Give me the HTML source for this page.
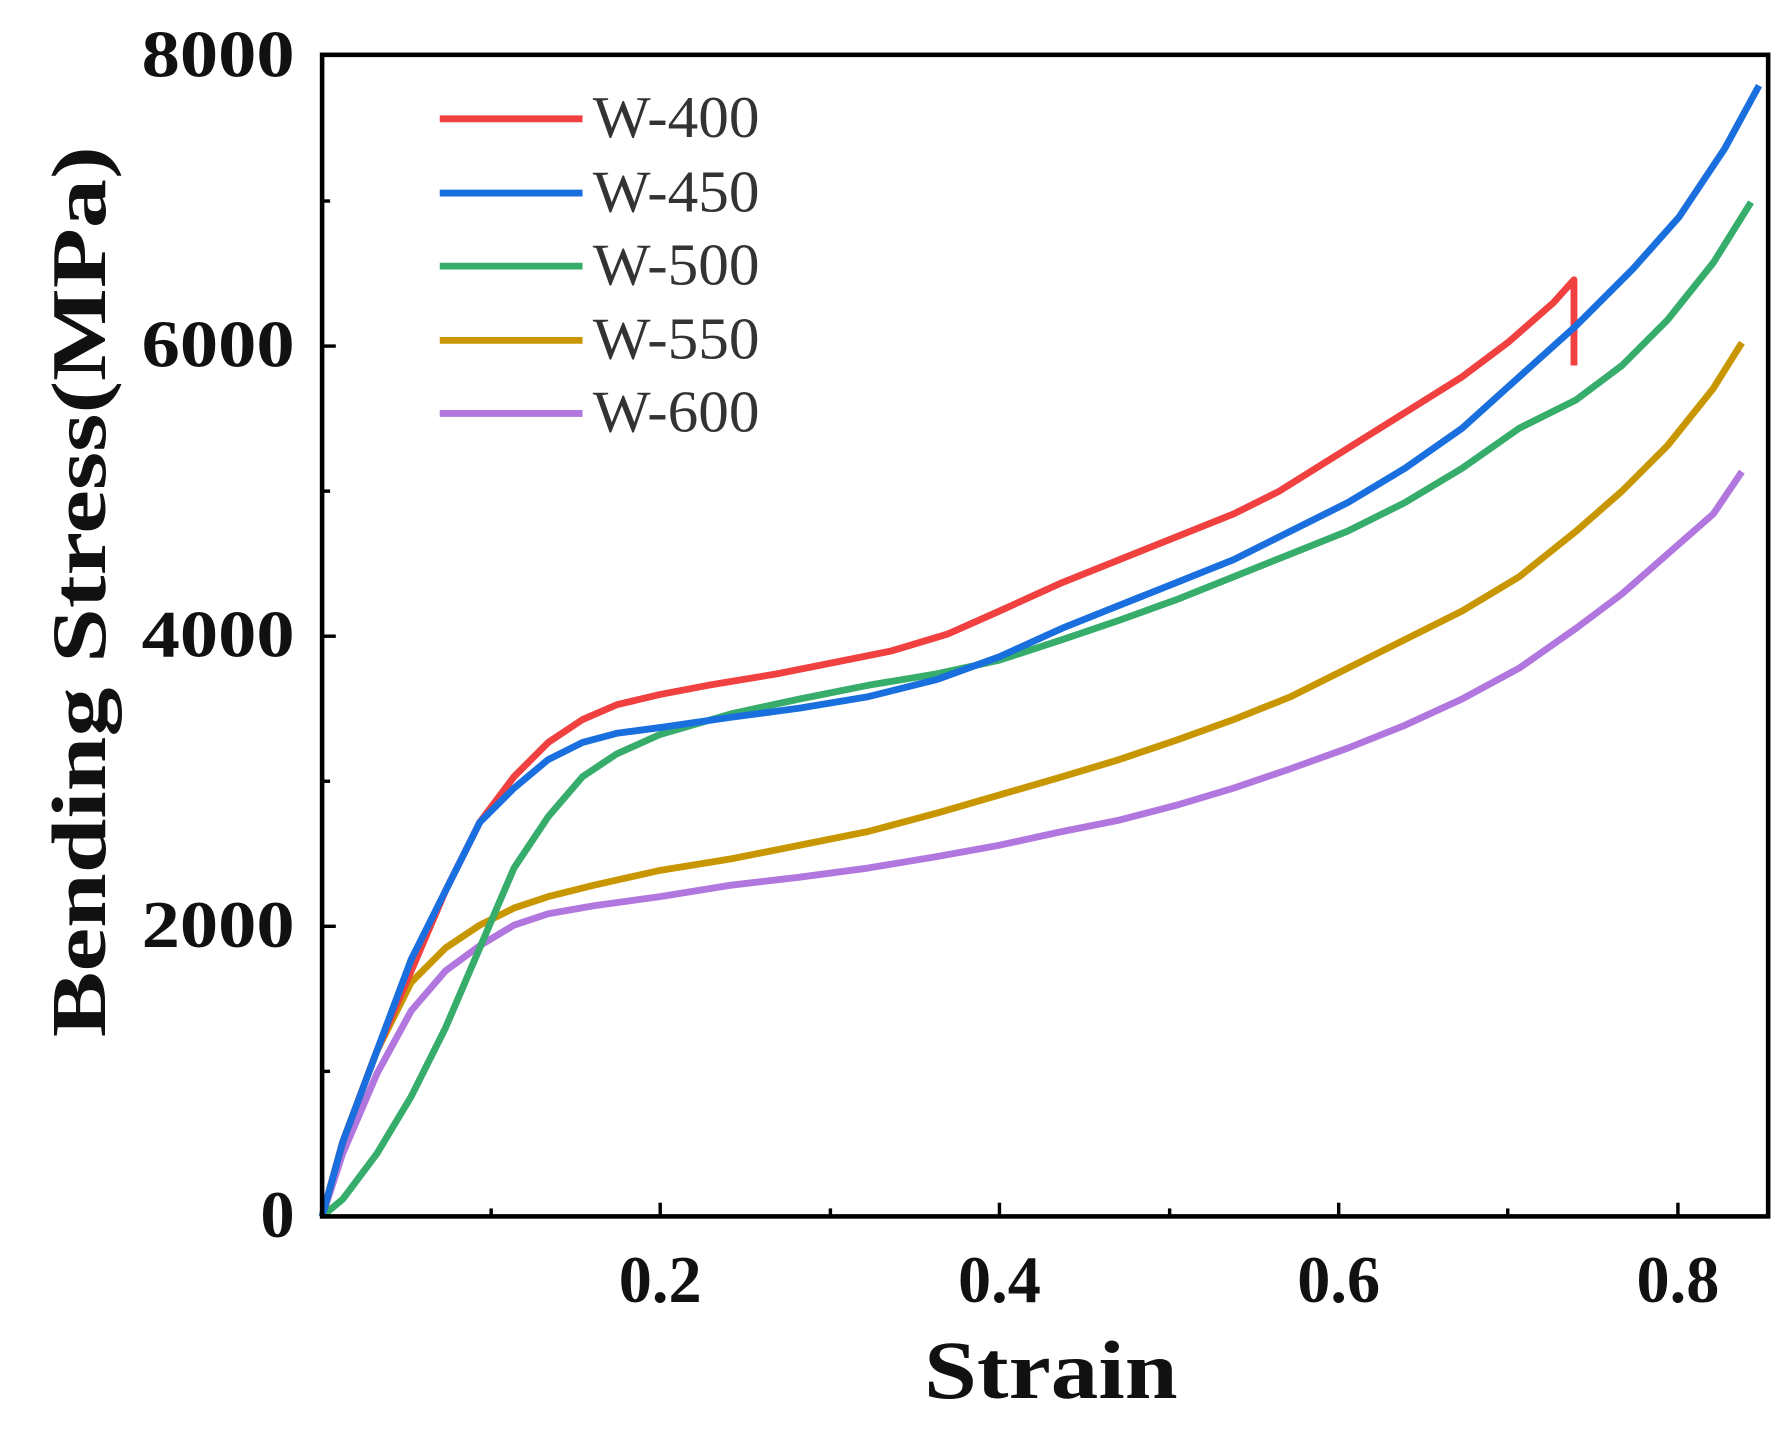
<!DOCTYPE html>
<html><head><style>html,body{margin:0;padding:0;background:#fff}svg{display:block}</style></head>
<body>
<svg width="1791" height="1430" viewBox="0 0 1568 1252" preserveAspectRatio="none" xmlns="http://www.w3.org/2000/svg">
<g fill="none" stroke-width="6" stroke-linejoin="round" stroke-linecap="butt">
<polyline stroke="#b177de" points="282,1065 300,1010 330,940 360,885 390,850 420,828 450,810 480,800 520,793 578,785 640,775 700,768 760,760 820,750 875,740 930,728 980,718 1030,705 1080,690 1130,673 1180,655 1230,635 1280,612 1330,585 1380,550 1420,520 1460,485 1500,450 1525,413"/>
<polyline stroke="#c89600" points="282,1065 300,1000 330,920 360,860 390,830 420,810 450,795 480,785 520,775 578,762 640,752 700,740 760,728 820,712 875,696 930,680 980,665 1030,648 1080,630 1130,610 1180,585 1230,560 1280,535 1330,505 1380,465 1420,430 1460,390 1500,340 1525,300"/>
<polyline stroke="#37ad6b" points="282,1065 300,1050 330,1010 360,960 390,900 420,830 450,760 480,715 510,680 540,660 578,643 640,625 700,612 760,600 820,590 875,578 930,560 980,543 1030,525 1080,505 1130,485 1180,465 1230,440 1280,410 1330,375 1380,350 1420,320 1460,280 1500,230 1533,177"/>
<polyline stroke="#f04040" points="282,1065 300,1000 330,920 360,850 390,780 420,720 450,680 480,650 510,630 540,617 578,608 620,600 680,590 730,580 780,570 830,555 875,535 930,510 980,490 1030,470 1080,450 1120,430 1160,405 1200,380 1240,355 1280,330 1320,300 1360,265 1378,245 1378,320"/>
<polyline stroke="#1a6fdf" points="282,1065 300,1000 330,920 360,840 390,780 420,720 450,690 480,665 510,650 540,642 578,637 640,628 700,620 760,610 820,595 875,575 930,550 980,530 1030,510 1080,490 1130,465 1180,440 1230,410 1280,375 1330,330 1380,285 1430,235 1470,190 1510,130 1540,75"/>
</g>
<rect x="282" y="48" width="1266" height="1017" fill="none" stroke="#000" stroke-width="4"/>
<g stroke="#000" stroke-width="3">
<line x1="282" y1="811" x2="294" y2="811"/><line x1="282" y1="557" x2="294" y2="557"/><line x1="282" y1="303" x2="294" y2="303"/>
<line x1="282" y1="938" x2="289" y2="938"/><line x1="282" y1="684" x2="289" y2="684"/><line x1="282" y1="430" x2="289" y2="430"/><line x1="282" y1="176" x2="289" y2="176"/>
<line x1="578" y1="1065" x2="578" y2="1053"/><line x1="875" y1="1065" x2="875" y2="1053"/><line x1="1172" y1="1065" x2="1172" y2="1053"/><line x1="1469" y1="1065" x2="1469" y2="1053"/>
<line x1="430" y1="1065" x2="430" y2="1058"/><line x1="727" y1="1065" x2="727" y2="1058"/><line x1="1024" y1="1065" x2="1024" y2="1058"/><line x1="1320" y1="1065" x2="1320" y2="1058"/>
</g>
<g stroke-width="6">
<line x1="385" y1="104" x2="510" y2="104" stroke="#f04040"/>
<line x1="385" y1="169" x2="510" y2="169" stroke="#1a6fdf"/>
<line x1="385" y1="233" x2="510" y2="233" stroke="#37ad6b"/>
<line x1="385" y1="298" x2="510" y2="298" stroke="#c89600"/>
<line x1="385" y1="362" x2="510" y2="362" stroke="#b177de"/>
</g>
<g font-family="Liberation Serif, serif" font-size="52" fill="#333">
<text x="519" y="120" textLength="146" lengthAdjust="spacingAndGlyphs">W-400</text>
<text x="519" y="185" textLength="146" lengthAdjust="spacingAndGlyphs">W-450</text>
<text x="519" y="249" textLength="146" lengthAdjust="spacingAndGlyphs">W-500</text>
<text x="519" y="314" textLength="146" lengthAdjust="spacingAndGlyphs">W-550</text>
<text x="519" y="378" textLength="146" lengthAdjust="spacingAndGlyphs">W-600</text>
</g>
<g font-family="Liberation Serif, serif" font-weight="bold" font-size="58" fill="#111" text-anchor="end">
<text x="258" y="1083" textLength="30" lengthAdjust="spacingAndGlyphs">0</text>
<text x="258" y="829" textLength="134" lengthAdjust="spacingAndGlyphs">2000</text>
<text x="258" y="575" textLength="134" lengthAdjust="spacingAndGlyphs">4000</text>
<text x="258" y="321" textLength="134" lengthAdjust="spacingAndGlyphs">6000</text>
<text x="258" y="67" textLength="134" lengthAdjust="spacingAndGlyphs">8000</text>
</g>
<g font-family="Liberation Serif, serif" font-weight="bold" font-size="58" fill="#111" text-anchor="middle">
<text x="578" y="1140">0.2</text>
<text x="875" y="1140">0.4</text>
<text x="1172" y="1140">0.6</text>
<text x="1469" y="1140">0.8</text>
</g>
<text x="920" y="1224" font-family="Liberation Serif, serif" font-weight="bold" font-size="72" fill="#111" text-anchor="middle" textLength="222" lengthAdjust="spacingAndGlyphs">Strain</text>
<text transform="translate(92,518) rotate(-90)" font-family="Liberation Serif, serif" font-weight="bold" font-size="68" fill="#111" text-anchor="middle" textLength="780" lengthAdjust="spacingAndGlyphs">Bending Stress(MPa)</text>
</svg>
</body></html>
